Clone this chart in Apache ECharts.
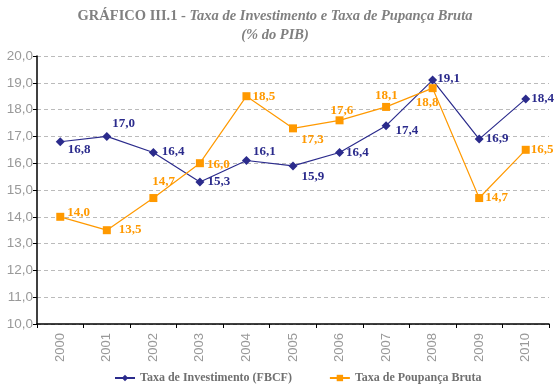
<!DOCTYPE html>
<html><head><meta charset="utf-8">
<script src="https://cdn.jsdelivr.net/npm/echarts@6/dist/echarts.min.js"></script>
<style>html,body{margin:0;padding:0;background:#fff}#c{width:557px;height:389px}</style>
</head><body><div id="c"></div>
<script>
const categories = ['2000','2001','2002','2003','2004','2005','2006','2007','2008','2009','2010'];
const investimento = [16.8,17.0,16.4,15.3,16.1,15.9,16.4,17.4,19.1,16.9,18.4];
const poupanca = [14.0,13.5,14.7,16.0,18.5,17.3,17.6,18.1,18.8,14.7,16.5];
const nameInv = 'Taxa de Investimento (FBCF)';
const namePoup = 'Taxa de Poupança Bruta';

// label placements (style only)
const invOffsets = [[-2,8],[-4,-13],[-1,-1],[-2,0],[-3,-9],[-1,11],[-3,0],[0,5],[-5,-1],[-3,0],[-4,0]];
const poupOffsets = [[-2,-4],[3,-1],[-10,-16],[-2,1],[-3,0],[-1,11],[-18,-10],[-20,-11],[-26,14],[-3,0],[-4,0]];

const invColor = '#2B2B8C', poupColor = '#FF9900';
const labelFont = {fontFamily:'Liberation Serif', fontWeight:'bold', fontSize:13};

function mk(vals, offs, color){
  return vals.map((v,i)=>({value:v, label:{show:true, position:'right', distance:5, offset:offs[i], color:color, ...labelFont,
    formatter:p=>p.value.toFixed(1).replace('.',',')}}));
}

const chart = echarts.init(document.getElementById('c'));
chart.setOption({
  animation:false,
  title:{
    text:'{b|GRÁFICO III.1 - }{i|Taxa de Investimento e Taxa de Pupança Bruta}\n{i|(% do PIB)}',
    left:270, textAlign:'center', top:2,
    textStyle:{rich:{
      b:{fontFamily:'Liberation Serif', fontWeight:'bold', fontSize:14.5, color:'#808080', lineHeight:19},
      i:{fontFamily:'Liberation Serif', fontWeight:'bold', fontStyle:'italic', fontSize:14.5, color:'#808080', lineHeight:19}
    }}
  },
  legend:{
    bottom:0, left:109, itemGap:37, itemWidth:20, itemHeight:8,
    textStyle:{fontFamily:'Liberation Serif', fontWeight:'bold', fontSize:12, color:'#707070'},
    data:[nameInv, namePoup]
  },
  grid:{left:37, right:8, top:56, bottom:65, containLabel:false},
  xAxis:{
    type:'category', data:categories, boundaryGap:true,
    axisLine:{lineStyle:{color:'#000', width:1.5}},
    axisTick:{show:true, length:4, lineStyle:{color:'#000'}},
    axisLabel:{rotate:90, color:'#999', fontFamily:'Liberation Sans Narrow, Liberation Sans', fontSize:13, margin:9}
  },
  yAxis:{
    type:'value', min:10, max:20, interval:1,
    axisLine:{show:true, lineStyle:{color:'#000', width:1.5}},
    axisTick:{show:true, length:4, lineStyle:{color:'#000'}},
    axisLabel:{color:'#999', fontFamily:'Liberation Sans', fontSize:13.5, margin:4,
      formatter:v=>v.toFixed(1).replace('.',',')},
    splitLine:{show:true, lineStyle:{color:'#bbb', type:[4,3]}}
  },
  series:[
    {name:nameInv, type:'line', data:mk(investimento, invOffsets, invColor), symbol:'diamond', symbolSize:9,
     lineStyle:{color:invColor, width:1.2}, itemStyle:{color:invColor}},
    {name:namePoup, type:'line', data:mk(poupanca, poupOffsets, poupColor), symbol:'rect', symbolSize:8,
     lineStyle:{color:poupColor, width:1.2}, itemStyle:{color:poupColor}}
  ]
});
</script></body></html>
